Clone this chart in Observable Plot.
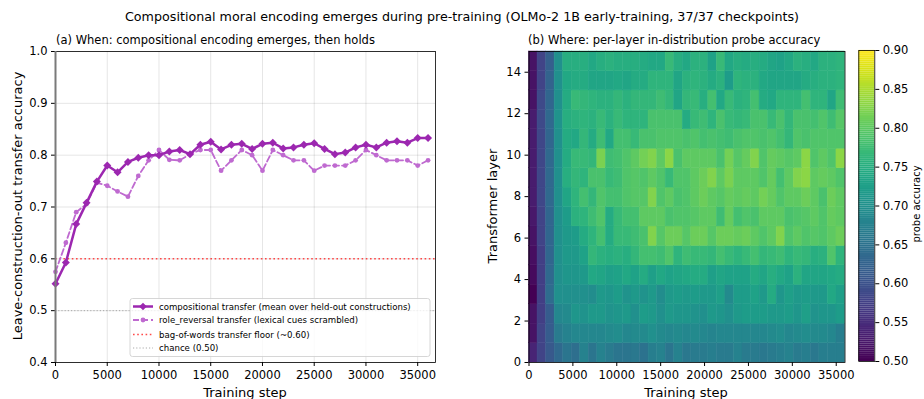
<!DOCTYPE html>
<html><head><meta charset="utf-8">
<script src="https://cdn.jsdelivr.net/npm/d3@7"></script>
<script src="https://cdn.jsdelivr.net/npm/@observablehq/plot@0.6"></script>
<style>
body{margin:0;background:#fff;}
#fig{position:relative;width:924px;height:399px;overflow:hidden;font-family:"DejaVu Sans",sans-serif;}
#fig > svg{position:absolute;}
</style></head><body><div id="fig"></div>
<script>
// ---------- data ----------
const steps = [0,1000,2000,3000,4000,5000,6000,7000,8000,9000,10000,11000,12000,13000,14000,15000,16000,17000,18000,19000,20000,21000,22000,23000,24000,25000,26000,27000,28000,29000,30000,31000,32000,33000,34000,35000,36000];
const compositional = [0.552,0.593,0.667,0.708,0.749,0.780,0.767,0.787,0.795,0.800,0.800,0.807,0.810,0.802,0.820,0.826,0.811,0.820,0.822,0.812,0.822,0.824,0.813,0.815,0.820,0.823,0.812,0.802,0.805,0.815,0.820,0.815,0.824,0.827,0.824,0.833,0.833];
const roleReversal = [0.575,0.631,0.690,0.706,0.747,0.741,0.730,0.720,0.760,0.790,0.810,0.791,0.790,0.802,0.810,0.810,0.770,0.790,0.810,0.800,0.770,0.810,0.800,0.790,0.790,0.770,0.780,0.780,0.780,0.790,0.810,0.800,0.790,0.790,0.790,0.780,0.790];
const bowFloor = 0.60;
const chance = 0.50;
const xTicks = [0,5000,10000,15000,20000,25000,30000,35000];
const yTicksA = [0.4,0.5,0.6,0.7,0.8,0.9,1.0];
const layers = [0,1,2,3,4,5,6,7,8,9,10,11,12,13,14,15];
const layerTicks = [0,2,4,6,8,10,12,14];
const cbarTicks = [0.50,0.55,0.60,0.65,0.70,0.75,0.80,0.85,0.90];
// probe accuracy, one row per layer (layer 0 first), one value per checkpoint
const probeAcc = [
 [0.54,0.58,0.61,0.635,0.655,0.645,0.675,0.655,0.675,0.665,0.655,0.655,0.66,0.65,0.67,0.675,0.655,0.675,0.66,0.665,0.665,0.67,0.665,0.665,0.675,0.665,0.665,0.66,0.665,0.67,0.675,0.665,0.67,0.66,0.67,0.67,0.67],
 [0.52,0.58,0.615,0.665,0.675,0.685,0.685,0.685,0.685,0.69,0.695,0.685,0.69,0.69,0.70,0.69,0.685,0.69,0.685,0.69,0.685,0.68,0.685,0.685,0.685,0.685,0.685,0.685,0.69,0.695,0.685,0.69,0.695,0.69,0.69,0.685,0.67],
 [0.52,0.575,0.615,0.685,0.69,0.71,0.705,0.715,0.715,0.705,0.71,0.715,0.70,0.72,0.715,0.70,0.715,0.71,0.71,0.705,0.70,0.715,0.71,0.70,0.715,0.72,0.72,0.72,0.715,0.715,0.72,0.71,0.725,0.705,0.71,0.71,0.72],
 [0.50,0.575,0.64,0.70,0.70,0.70,0.70,0.695,0.715,0.71,0.72,0.705,0.715,0.705,0.715,0.695,0.715,0.72,0.715,0.72,0.715,0.715,0.725,0.69,0.72,0.72,0.73,0.715,0.745,0.71,0.725,0.715,0.72,0.715,0.715,0.74,0.725],
 [0.51,0.575,0.635,0.70,0.71,0.71,0.715,0.74,0.735,0.725,0.73,0.74,0.73,0.745,0.725,0.74,0.73,0.735,0.74,0.745,0.745,0.725,0.735,0.73,0.73,0.73,0.745,0.735,0.75,0.74,0.73,0.755,0.735,0.735,0.735,0.74,0.745],
 [0.515,0.575,0.63,0.70,0.715,0.715,0.73,0.765,0.755,0.75,0.755,0.75,0.765,0.78,0.78,0.775,0.79,0.76,0.775,0.77,0.77,0.765,0.78,0.77,0.76,0.77,0.78,0.765,0.77,0.775,0.76,0.77,0.765,0.75,0.755,0.79,0.76],
 [0.52,0.58,0.63,0.70,0.715,0.72,0.745,0.76,0.78,0.745,0.77,0.77,0.775,0.785,0.825,0.795,0.81,0.81,0.795,0.81,0.81,0.795,0.81,0.81,0.805,0.81,0.80,0.79,0.80,0.825,0.79,0.80,0.79,0.795,0.79,0.80,0.81],
 [0.525,0.58,0.63,0.70,0.72,0.755,0.76,0.775,0.79,0.745,0.77,0.78,0.78,0.80,0.80,0.80,0.785,0.79,0.79,0.795,0.80,0.80,0.775,0.805,0.78,0.79,0.785,0.80,0.80,0.80,0.785,0.79,0.795,0.80,0.79,0.805,0.80],
 [0.53,0.585,0.635,0.70,0.735,0.76,0.78,0.765,0.79,0.78,0.78,0.79,0.795,0.795,0.825,0.79,0.80,0.785,0.79,0.80,0.81,0.80,0.795,0.805,0.80,0.805,0.80,0.815,0.805,0.79,0.80,0.80,0.81,0.80,0.785,0.81,0.80],
 [0.53,0.585,0.635,0.70,0.75,0.765,0.76,0.785,0.785,0.77,0.775,0.79,0.795,0.79,0.80,0.79,0.77,0.79,0.79,0.80,0.81,0.825,0.80,0.82,0.80,0.80,0.80,0.79,0.805,0.78,0.80,0.825,0.83,0.80,0.805,0.80,0.79],
 [0.53,0.585,0.635,0.70,0.745,0.77,0.77,0.765,0.82,0.775,0.78,0.79,0.80,0.815,0.825,0.80,0.83,0.785,0.80,0.80,0.80,0.80,0.785,0.815,0.795,0.805,0.825,0.79,0.805,0.80,0.795,0.80,0.83,0.79,0.80,0.79,0.83],
 [0.53,0.585,0.63,0.70,0.745,0.74,0.765,0.745,0.775,0.74,0.78,0.78,0.77,0.785,0.785,0.79,0.79,0.79,0.785,0.79,0.78,0.785,0.78,0.775,0.785,0.79,0.79,0.785,0.79,0.78,0.765,0.79,0.785,0.79,0.79,0.79,0.79],
 [0.53,0.59,0.635,0.705,0.75,0.755,0.76,0.755,0.77,0.755,0.77,0.76,0.76,0.76,0.785,0.785,0.785,0.785,0.745,0.77,0.775,0.76,0.785,0.77,0.765,0.77,0.785,0.785,0.77,0.785,0.765,0.785,0.785,0.78,0.79,0.775,0.795],
 [0.52,0.59,0.63,0.70,0.745,0.77,0.765,0.76,0.755,0.755,0.765,0.755,0.765,0.765,0.765,0.775,0.765,0.735,0.765,0.77,0.75,0.78,0.74,0.77,0.755,0.76,0.78,0.745,0.74,0.76,0.76,0.76,0.78,0.76,0.76,0.735,0.775],
 [0.52,0.58,0.625,0.70,0.74,0.745,0.745,0.735,0.735,0.735,0.74,0.735,0.745,0.745,0.76,0.76,0.76,0.735,0.755,0.76,0.755,0.745,0.755,0.72,0.76,0.755,0.755,0.74,0.735,0.735,0.735,0.735,0.745,0.75,0.755,0.755,0.76],
 [0.52,0.58,0.62,0.70,0.75,0.75,0.75,0.74,0.75,0.755,0.75,0.75,0.75,0.745,0.74,0.74,0.77,0.75,0.74,0.755,0.755,0.73,0.77,0.74,0.75,0.745,0.75,0.745,0.735,0.73,0.74,0.755,0.75,0.74,0.755,0.755,0.76]
];
const titleText = "Compositional moral encoding emerges during pre-training (OLMo-2 1B early-training, 37/37 checkpoints)";
const titleA = "(a) When: compositional encoding emerges, then holds";
const titleB = "(b) Where: per-layer in-distribution probe accuracy";
const legendLabels = ["compositional transfer (mean over held-out constructions)","role_reversal transfer (lexical cues scrambled)","bag-of-words transfer floor (~0.60)","chance (0.50)"];

// ---------- build ----------
const fig = document.getElementById("fig");
const font = {fontFamily: "DejaVu Sans, sans-serif", fontSize: "11.5px", background: "transparent", overflow: "visible", color: "#000"};
const C_COMP = "#9c27b0", C_ROLE = "#bf6ad0";

const compData = steps.map((s,i)=>({step:s, v:compositional[i]}));
const roleData = steps.map((s,i)=>({step:s, v:roleReversal[i]}));
const xMaxA = steps[steps.length-1]*1.02;

const left = Plot.plot({
  width: 450, height: 399,
  marginLeft: 55, marginRight: 15, marginTop: 51, marginBottom: 37,
  style: font,
  x: {domain: [0, xMaxA], ticks: xTicks, tickFormat: d=>String(d), tickSize: 4, tickPadding: 4, label: null, grid: true},
  y: {domain: [0.4, 1.0], ticks: yTicksA, tickFormat: ".1f", tickSize: 4, tickPadding: 4, label: null, grid: true},
  marks: [
    Plot.ruleY([chance], {stroke: "#a0a0a0", strokeWidth: 0.9, strokeDasharray: "1.2,2"}),
    Plot.ruleY([bowFloor], {stroke: "#ff2a2a", strokeOpacity: 0.85, strokeWidth: 1.5, strokeDasharray: "1.6,2.6"}),
    Plot.line(roleData, {x: "step", y: "v", stroke: C_ROLE, strokeWidth: 1.8, strokeDasharray: "6,3"}),
    Plot.dot(roleData, {x: "step", y: "v", r: 2.4, fill: C_ROLE}),
    Plot.line(compData, {x: "step", y: "v", stroke: C_COMP, strokeWidth: 2.5}),
    Plot.dot(compData, {x: "step", y: "v", r: 3.6, symbol: "diamond2", fill: C_COMP}),
    Plot.frame({stroke: "#000", strokeWidth: 0.8}),
    Plot.ruleX([steps[0]], {stroke: "#7a7a7a", strokeWidth: 2})
  ]
});
left.style.left = "0px"; left.style.top = "0px";
fig.appendChild(left);

// heatmap
const nCol = steps.length, nRow = layers.length;
const x0 = steps[0], x1 = steps[nCol-1];
const yTop = layers[nRow-1];
const cells = [];
layers.forEach((L, i) => steps.forEach((s, j) => cells.push({
  xa: x0 + j*(x1-x0)/nCol, xb: x0 + (j+1)*(x1-x0)/nCol,
  ya: L*yTop/nRow, yb: (L+1)*yTop/nRow, v: probeAcc[i][j]
})));
const colorScale = {type: "linear", scheme: "viridis", domain: [0.5, 0.9], clamp: true};

const heat = Plot.plot({
  width: 390, height: 399,
  marginLeft: 58.5, marginRight: 15.5, marginTop: 51, marginBottom: 37,
  style: font,
  x: {domain: [x0, x1], ticks: xTicks, tickFormat: d=>String(d), tickSize: 4, tickPadding: 4, label: null},
  y: {domain: [0, yTop], ticks: layerTicks, tickSize: 4, tickPadding: 4, label: null},
  color: colorScale,
  marks: [
    Plot.rect(cells, {x1: "xa", x2: "xb", y1: "ya", y2: "yb", fill: "v", stroke: "v", strokeWidth: 0.5}),
    Plot.frame({stroke: "#000", strokeWidth: 0.8})
  ]
});
heat.style.left = "470px"; heat.style.top = "0px";
fig.appendChild(heat);

// colorbar
const cbSteps = d3.range(0.5, 0.9, 0.0025);
const cbar = Plot.plot({
  width: 74, height: 399,
  marginLeft: 8.3, marginRight: 49.7, marginTop: 50, marginBottom: 38,
  style: font,
  x: {axis: null, domain: [0, 1]},
  y: {domain: [0.5, 0.9], ticks: cbarTicks, tickFormat: ".2f", axis: "right", tickSize: 4, tickPadding: 4, label: null},
  color: colorScale,
  marks: [
    Plot.rect(cbSteps, {x1: 0, x2: 1, y1: d=>d, y2: d=>d+0.0026, fill: d=>d+0.00125}),
    Plot.frame({stroke: "#000", strokeWidth: 0.8})
  ]
});
cbar.style.left = "850px"; cbar.style.top = "0px";
fig.appendChild(cbar);

// overlay text + legend
const ns = "http://www.w3.org/2000/svg";
const ov = document.createElementNS(ns, "svg");
ov.setAttribute("width", 924); ov.setAttribute("height", 399);
ov.style.left = "0px"; ov.style.top = "0px";
ov.setAttribute("font-family", "DejaVu Sans, sans-serif");
fig.appendChild(ov);
function txt(s, x, y, size, opts={}) {
  const t = document.createElementNS(ns, "text");
  t.textContent = s;
  t.setAttribute("x", x); t.setAttribute("y", y);
  t.setAttribute("font-size", size);
  t.setAttribute("fill", "#000");
  if (opts.anchor) t.setAttribute("text-anchor", opts.anchor);
  if (opts.rotate) t.setAttribute("transform", `rotate(-90 ${x} ${y})`);
  ov.appendChild(t);
  return t;
}
txt(titleText, 462, 21, 12.7, {anchor: "middle"});
txt(titleA, 56, 44, 11.5);
txt(titleB, 528, 44, 11.5);
txt("Training step", 245, 397, 13, {anchor: "middle"});
txt("Training step", 686, 397, 13, {anchor: "middle"});
txt("Leave-construction-out transfer accuracy", 22, 206, 13, {anchor: "middle", rotate: true});
txt("Transformer layer", 497, 206, 13, {anchor: "middle", rotate: true});
txt("probe accuracy", 920, 204, 10, {anchor: "middle", rotate: true});

// legend
const lg = document.createElementNS(ns, "g");
ov.appendChild(lg);
const box = document.createElementNS(ns, "rect");
box.setAttribute("x", 130); box.setAttribute("y", 298.5); box.setAttribute("width", 300); box.setAttribute("height", 58);
box.setAttribute("rx", 2.5); box.setAttribute("fill", "rgba(255,255,255,0.8)"); box.setAttribute("stroke", "#cccccc"); box.setAttribute("stroke-width", 0.8);
lg.appendChild(box);
const rowsY = [306.5, 320, 334.5, 348];
const styles = [
  {stroke: C_COMP, w: 2.5, dash: null, marker: "diamond"},
  {stroke: C_ROLE, w: 1.8, dash: "6,3", marker: "circle"},
  {stroke: "#ff2a2a", w: 1.5, dash: "1.6,2.6", marker: null, op: 0.85},
  {stroke: "#a0a0a0", w: 0.9, dash: "1.2,2", marker: null}
];
styles.forEach((st, i) => {
  const y = rowsY[i];
  const l = document.createElementNS(ns, "line");
  l.setAttribute("x1", 133); l.setAttribute("x2", 153); l.setAttribute("y1", y); l.setAttribute("y2", y);
  l.setAttribute("stroke", st.stroke); l.setAttribute("stroke-width", st.w);
  if (st.dash) l.setAttribute("stroke-dasharray", st.dash);
  if (st.op) l.setAttribute("stroke-opacity", st.op);
  lg.appendChild(l);
  if (st.marker === "diamond") {
    const p = document.createElementNS(ns, "path");
    p.setAttribute("d", `M143 ${y-3.8}L146.8 ${y}L143 ${y+3.8}L139.2 ${y}Z`);
    p.setAttribute("fill", st.stroke); lg.appendChild(p);
  } else if (st.marker === "circle") {
    const c = document.createElementNS(ns, "circle");
    c.setAttribute("cx", 143); c.setAttribute("cy", y); c.setAttribute("r", 2.4);
    c.setAttribute("fill", st.stroke); lg.appendChild(c);
  }
  const t = txt(legendLabels[i], 159, y + 3, 8.6);
  lg.appendChild(t);
});
</script>
</body></html>
